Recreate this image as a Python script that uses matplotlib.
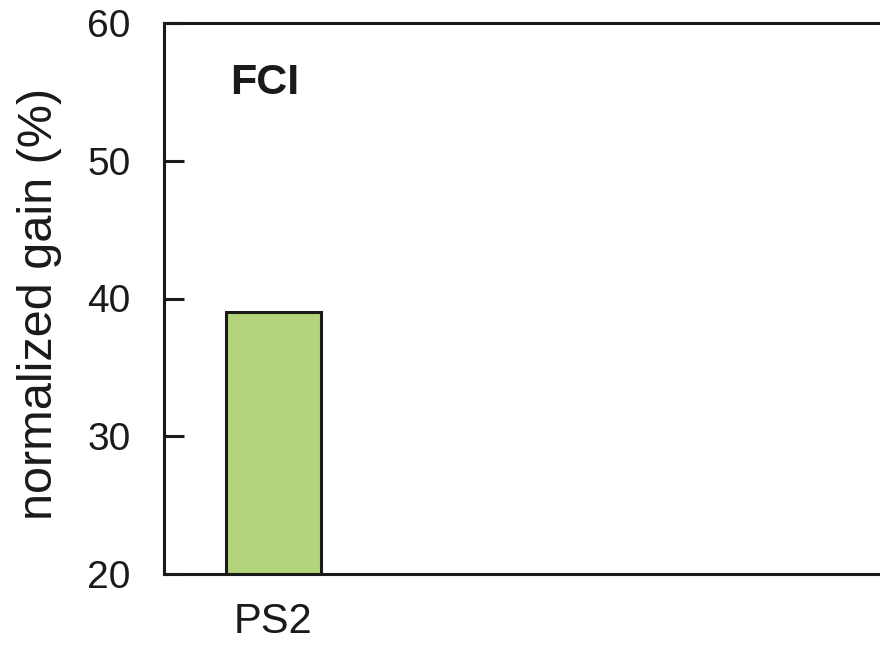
import matplotlib; matplotlib.use('Agg')
import matplotlib.pyplot as plt

plt.rcParams['font.family'] = ['Liberation Sans', 'DejaVu Sans']

categories = ['PS2']
gain = [39]
yticks = [20, 30, 40, 50, 60]

BAR = '#B2D47A'
INK = '#1a1a1a'

fig = plt.figure(figsize=(8.8, 6.45), dpi=100)
ax = fig.add_axes([164/880, 1-574/645, 1-164/880, (574-23)/645])

ax.bar(range(len(categories)), gain, width=1.0, bottom=0, color=BAR, edgecolor=INK, lw=2.2)
ax.set_ylim(20, 60)
ax.set_xlim(-1.153, 6.4)
ax.set_yticks(yticks)
ax.set_xticks(range(len(categories)))
ax.set_xticklabels(categories)
ax.tick_params(axis='y', direction='in', length=14.5, width=2.2, pad=24, labelsize=28, colors=INK)
ax.tick_params(axis='x', length=0, pad=20, labelsize=30, colors=INK)
for s in ['left', 'top', 'bottom']:
    ax.spines[s].set_linewidth(2.2)
    ax.spines[s].set_color(INK)
ax.spines['right'].set_visible(False)

ax.set_ylabel('normalized gain (%)', fontsize=35, color=INK)
ax.yaxis.set_label_coords(-0.142, 0.49)
# label in pixel coords (origin bottom-left)
ax.text(230, 645-83, 'FCI', transform=None, fontsize=31, fontweight='bold', color=INK, va='center', ha='left')

fig.savefig('out.png', dpi=100, facecolor='white')
